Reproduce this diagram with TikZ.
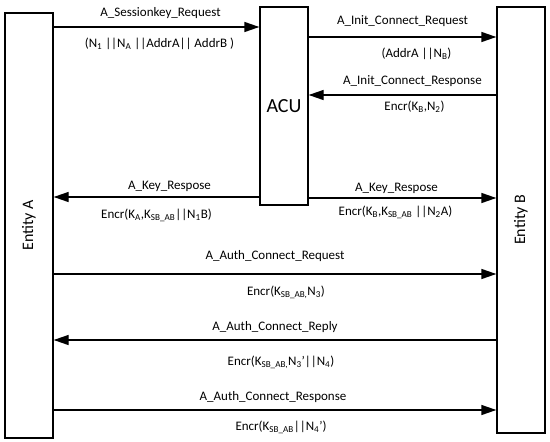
\documentclass[tikz,border=0pt]{standalone}
\usepackage{fontspec}
\setmainfont{Carlito}
\usepackage{tikz}
\usetikzlibrary{arrows.meta, positioning}

\tikzset{
    party/.style={draw, line width=1.3pt, inner sep=0pt, font=\fontsize{16}{18}\selectfont},
    msg/.style={line width=1.3pt, -{Triangle[length=15pt, width=10pt]}},
    lbl/.style={inner sep=0pt, text height=8pt, text depth=2pt, font=\fontsize{13}{15}\selectfont}
}

\begin{document}
\begin{tikzpicture}[x=1pt, y=-1pt]
        \useasboundingbox (0,0) rectangle (550,442);

        \node[party, minimum width=48pt, minimum height=425pt] (A) at (29,225.5) {\rotatebox{90}{Entity A}};
        \node[party, minimum width=48pt, minimum height=198pt, font=\fontsize{20}{22}\selectfont] (ACU) at (284,106) {ACU};
        \node[party, minimum width=48pt, minimum height=426pt] (B) at (521,220) {\rotatebox{90}{Entity B}};

        \path[msg]
        (A.east |- 0,27) edge node[lbl, above=8pt, xshift=4pt] {A\_Sessionkey\_Request}
            node[lbl, below=12pt, xshift=3pt] {(N\textsubscript{1} ||N\textsubscript{A} ||AddrA|| AddrB )} (ACU.west |- 0,27)
        (ACU.east |- 0,37) edge node[lbl, above=10pt] {A\_Init\_Connect\_Request}
            node[lbl, below=12pt, xshift=14pt] {(AddrA ||N\textsubscript{B})} (B.west |- 0,37)
        (B.west |- 0,95) edge node[lbl, above=8pt, xshift=10pt] {A\_Init\_Connect\_Response}
            node[lbl, below=7pt, xshift=12pt] {Encr(K\textsubscript{B},N\textsubscript{2})} (ACU.east |- 0,95)

        (ACU.west |- 0,197) edge node[lbl, above=5pt, xshift=13pt] {A\_Key\_Respose}
            node[lbl, below=13pt] {Encr(K\textsubscript{A},K\textsubscript{SB\_AB}||N\textsubscript{1}B)} (A.east |- 0,197)
        (ACU.east |- 0,198) edge node[lbl, above=4pt, xshift=-6pt] {A\_Key\_Respose}
            node[lbl, below=9pt, xshift=-7pt] {Encr(K\textsubscript{B},K\textsubscript{SB\_AB} ||N\textsubscript{2}A)} (B.west |- 0,198)

        (A.east |- 0,274) edge node[lbl, above=12pt] {A\_Auth\_Connect\_Request}
            node[lbl, below=13pt, xshift=11pt] {Encr(K\textsubscript{SB\_AB,}N\textsubscript{3})} (B.west |- 0,274)
        (B.west |- 0,340) edge node[lbl, above=7pt] {A\_Auth\_Connect\_Reply}
            node[lbl, below=17pt, xshift=6pt] {Encr(K\textsubscript{SB\_AB,}N\textsubscript{3}'||N\textsubscript{4})} (A.east |- 0,340)
        (A.east |- 0,410) edge node[lbl, above=7pt, xshift=-2pt] {A\_Auth\_Connect\_Response}
            node[lbl, below=12pt, xshift=6pt] {Encr(K\textsubscript{SB\_AB}||N\textsubscript{4}')} (B.west |- 0,410);

\end{tikzpicture}
\end{document}
